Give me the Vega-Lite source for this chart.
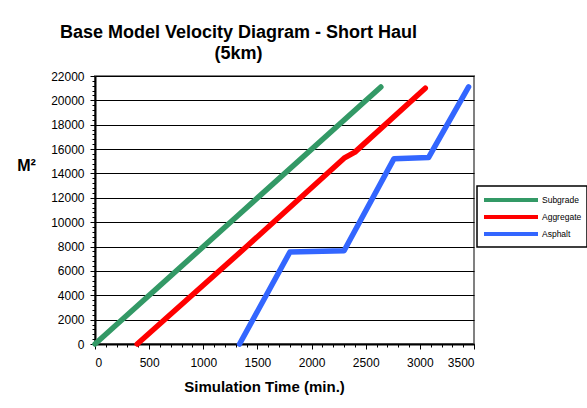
{
  "$schema": "https://vega.github.io/schema/vega-lite/v6.json",
  "width": 379,
  "height": 268,
  "autosize": {"type": "none"},
  "padding": {"left": 95, "top": 76, "right": 113, "bottom": 64},
  "background": "white",
  "config": {
    "font": "Liberation Sans",
    "view": {"stroke": "#808080", "strokeWidth": 2},
    "axis": {"labelFont": "Liberation Sans", "titleFont": "Liberation Sans", "labelColor": "black", "titleColor": "black"},
    "legend": {"strokeColor": "black", "strokeWidth": 1.5, "fillColor": "white", "padding": 5}
  },
  "title": {
    "text": ["Base Model Velocity Diagram - Short Haul", "(5km)"],
    "font": "Liberation Sans",
    "fontSize": 18,
    "fontWeight": "bold",
    "color": "black",
    "anchor": "middle",
    "dx": -46,
    "offset": 7,
    "lineHeight": 21
  },
  "data": {
    "values": [
      {"series": "Subgrade", "time": 0, "area": 0},
      {"series": "Subgrade", "time": 1320, "area": 10550},
      {"series": "Subgrade", "time": 2640, "area": 21100},
      {"series": "Aggregate", "time": 390, "area": 0},
      {"series": "Aggregate", "time": 1400, "area": 8000},
      {"series": "Aggregate", "time": 2300, "area": 15250},
      {"series": "Aggregate", "time": 2400, "area": 15750},
      {"series": "Aggregate", "time": 3050, "area": 21000},
      {"series": "Asphalt", "time": 1335, "area": 0},
      {"series": "Asphalt", "time": 1800, "area": 7550},
      {"series": "Asphalt", "time": 2300, "area": 7650},
      {"series": "Asphalt", "time": 2760, "area": 15200},
      {"series": "Asphalt", "time": 3080, "area": 15300},
      {"series": "Asphalt", "time": 3450, "area": 21100}
    ]
  },
  "resolve": {"axis": {"x": "independent", "y": "independent"}},
  "layer": [
    {
      "mark": {"type": "line", "strokeWidth": 5.5, "strokeCap": "round", "strokeJoin": "round"},
      "encoding": {
        "x": {
          "field": "time", "type": "quantitative",
          "scale": {"domain": [0, 3500], "nice": false, "zero": false},
          "axis": {
            "values": [0, 500, 1000, 1500, 2000, 2500, 3000, 3500],
            "grid": false,
            "title": "Simulation Time (min.)",
            "titleFontSize": 15, "titleFontWeight": "bold",
            "titleX": 169, "titleY": 47, "titleAlign": "center", "titleBaseline": "alphabetic",
            "labelFontSize": 12, "labelPadding": 8,
            "tickSize": 5, "tickColor": "black", "domainColor": "black", "domainWidth": 2,
            "format": "d"
          }
        },
        "y": {
          "field": "area", "type": "quantitative",
          "scale": {"domain": [0, 22000], "nice": false},
          "axis": {
            "values": [0, 2000, 4000, 6000, 8000, 10000, 12000, 14000, 16000, 18000, 20000, 22000],
            "grid": true, "gridColor": "black", "gridWidth": 1, "gridOpacity": 1,
            "title": "M²",
            "titleAngle": 0, "titleX": -69, "titleY": 89, "titleAlign": "center", "titleBaseline": "middle",
            "titleFontSize": 16, "titleFontWeight": "bold",
            "labelFontSize": 12, "labelPadding": 6,
            "tickSize": 5, "tickColor": "black", "domainColor": "black", "domainWidth": 2,
            "format": "d"
          }
        },
        "color": {
          "field": "series", "type": "nominal",
          "scale": {"domain": ["Subgrade", "Aggregate", "Asphalt"], "range": ["#339966", "#FF0000", "#3366FF"]},
          "legend": {
            "title": null,
            "orient": "none",
            "legendX": 382,
            "legendY": 110,
            "symbolType": "M-1,0H6.714",
            "symbolStrokeWidth": 4,
            "symbolSize": 196,
            "labelFontSize": 8.5,
            "labelFont": "Liberation Sans",
            "labelColor": "black",
            "labelOffset": 42,
            "rowPadding": 0
          }
        },
        "order": {"field": "time", "type": "quantitative"}
      }
    },
    {
      "mark": {"type": "point", "opacity": 0},
      "encoding": {
        "x": {
          "field": "time", "type": "quantitative",
          "scale": {"domain": [0, 3500], "nice": false, "zero": false},
          "axis": {
            "orient": "bottom",
            "values": [100, 200, 300, 400, 600, 700, 800, 900, 1100, 1200, 1300, 1400, 1600, 1700, 1800, 1900, 2100, 2200, 2300, 2400, 2600, 2700, 2800, 2900, 3100, 3200, 3300, 3400],
            "labels": false, "grid": false, "domain": false, "title": null,
            "tickSize": 3, "tickColor": "black"
          }
        },
        "y": {
          "field": "area", "type": "quantitative",
          "scale": {"domain": [0, 22000], "nice": false},
          "axis": {
            "orient": "left",
            "values": [400, 800, 1200, 1600, 2400, 2800, 3200, 3600, 4400, 4800, 5200, 5600, 6400, 6800, 7200, 7600, 8400, 8800, 9200, 9600, 10400, 10800, 11200, 11600, 12400, 12800, 13200, 13600, 14400, 14800, 15200, 15600, 16400, 16800, 17200, 17600, 18400, 18800, 19200, 19600, 20400, 20800, 21200, 21600],
            "labels": false, "grid": false, "domain": false, "title": null,
            "tickSize": 3, "tickColor": "black"
          }
        }
      }
    }
  ]
}
